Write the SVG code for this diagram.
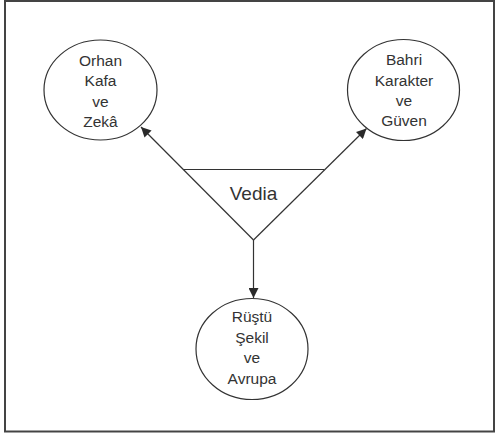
<svg xmlns="http://www.w3.org/2000/svg" width="496" height="433" viewBox="0 0 496 433">
  <defs>
    <marker id="arrow" viewBox="0 0 10 10" refX="10" refY="5" markerWidth="10" markerHeight="10" markerUnits="userSpaceOnUse" orient="auto">
      <path d="M0,0 L10,5 L0,10 z" fill="#2a2a2a"/>
    </marker>
  </defs>
  <style>
    .node { fill: #ffffff; stroke: #333333; stroke-width: 1.2; }
    .label { font-family: "Liberation Sans", Arial, sans-serif; font-size: 15.5px; fill: #333333; text-anchor: middle; }
    .title { font-family: "Liberation Sans", Arial, sans-serif; font-size: 19px; fill: #333333; text-anchor: middle; }
    .edge { stroke: #333333; stroke-width: 1.2; fill: none; }
  </style>
  <rect x="0" y="0" width="496" height="433" fill="#ffffff"/>
  <!-- outer frame -->
  <rect x="5" y="1" width="489" height="430.5" fill="none" stroke="#444444" stroke-width="2"/>

  <!-- connectors: edges out of the Vedia apex -->
  <g id="connectors">
    <line class="edge" x1="253.5" y1="240" x2="141" y2="127" marker-end="url(#arrow)"/>
    <line class="edge" x1="253.5" y1="240" x2="366.5" y2="128.5" marker-end="url(#arrow)"/>
    <line class="edge" x1="253.5" y1="240" x2="253.5" y2="298" marker-end="url(#arrow)"/>
  </g>

  <!-- Vedia: inverted triangle closed by a top edge between the two diagonals -->
  <g id="vedia">
    <line class="edge" x1="183.5" y1="169.5" x2="324" y2="169.5"/>
    <text class="title" x="253.5" y="200">Vedia</text>
  </g>

  <g id="orhan">
    <ellipse class="node" cx="100.5" cy="90" rx="56.5" ry="50"/>
    <text class="label" x="100.5" y="65.5">Orhan</text>
    <text class="label" x="100.5" y="86">Kafa</text>
    <text class="label" x="100.5" y="106.5">ve</text>
    <text class="label" x="100.5" y="127">Zekâ</text>
  </g>

  <g id="bahri">
    <ellipse class="node" cx="403.5" cy="90" rx="56" ry="50.5"/>
    <text class="label" x="404" y="65">Bahri</text>
    <text class="label" x="404" y="85.5">Karakter</text>
    <text class="label" x="404" y="106">ve</text>
    <text class="label" x="404" y="126">Güven</text>
  </g>

  <g id="rustu">
    <ellipse class="node" cx="252" cy="349" rx="56" ry="50.5"/>
    <text class="label" x="252" y="322">Rüştü</text>
    <text class="label" x="252" y="342.5">Şekil</text>
    <text class="label" x="252" y="363">ve</text>
    <text class="label" x="252" y="383.5">Avrupa</text>
  </g>
</svg>
